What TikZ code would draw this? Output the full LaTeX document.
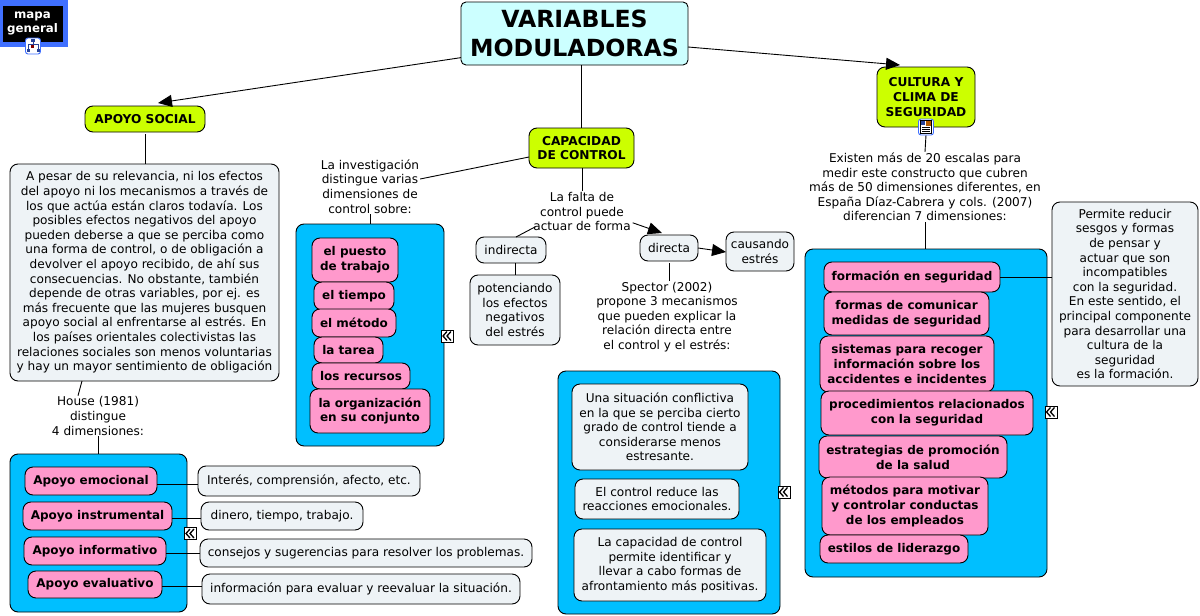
\documentclass[tikz,border=0pt]{standalone}
\usepackage{fontspec}
\setmainfont{DejaVu Sans}
\usetikzlibrary{arrows.meta,calc}
\definecolor{cgreen}{HTML}{CCFF00}
\definecolor{cpink}{HTML}{FF99CC}
\definecolor{cgrey}{HTML}{EEF3F6}
\definecolor{ccyan}{HTML}{CCFFFF}
\definecolor{cpanel}{HTML}{00BFFF}
\definecolor{cmap}{HTML}{4070FF}
\newcommand\bx[7][]{\node[#1,minimum width={(#5-#3)*1pt},minimum height={(#6-#4)*1pt}] (#2) at ({(#3+#5)/2},{(#4+#6)/2}) {#7};}
\tikzset{
  x=1pt,y=-1pt,
  base/.style={draw=black,line width=0.9pt,rounded corners=8pt,inner sep=0pt,outer sep=0pt,align=center,font=\fontsize{12.1}{14.6}\selectfont},
  mainbox/.style={base,fill=ccyan,rounded corners=5pt,font=\bfseries\fontsize{23.6}{28.5}\selectfont},
  topic/.style={base,fill=cgreen,font=\bfseries\fontsize{12.2}{14.6}\selectfont},
  pinkbox/.style={base,fill=cpink,font=\bfseries\fontsize{12}{14.6}\selectfont},
  greybox/.style={base,fill=cgrey},
  panel/.style={base,fill=cpanel},
  lab/.style={align=center,inner sep=1pt,outer sep=0pt,font=\fontsize{12.1}{14.6}\selectfont},
  link/.style={draw=black,line width=0.9pt},
  arr/.style={link,-{Triangle[length=14pt,width=12pt]}},
  collapse/.style={draw=black,fill=white,line width=0.9pt,minimum size=12pt,inner sep=0pt,
    path picture={
      \draw[line width=1.3pt] ($(path picture bounding box.center)+(-0.5,-4.5)$) -- ++(-4,4.5) -- ++(4,4.5);
      \draw[line width=1.3pt] ($(path picture bounding box.center)+(3.5,-4.5)$) -- ++(-4,4.5) -- ++(4,4.5);
    }},
  iconbox/.style={draw=cmap,fill=white,line width=0.9pt,rounded corners=2.5pt,inner sep=0pt,minimum width=15pt,minimum height=16pt},
}
\begin{document}
\begin{tikzpicture}
\useasboundingbox (0,0) rectangle (1200,616);
% blue panels
\bx[panel]{pA}{10}{454}{187}{612}{}
\bx[panel]{pB}{296}{224}{444}{446}{}
\bx[panel]{pC}{558}{371}{780}{614}{}
\bx[panel]{pD}{805}{249}{1047}{577}{}
% map button
\fill[cmap] (0,0) rectangle (68,47);
\bx[base,fill=black,rounded corners=0pt,text=white,font=\bfseries\fontsize{11.8}{14.6}\selectfont,draw=black]{mapa}{3}{6}{62}{41}{mapa\\general}
% main nodes
\bx[mainbox]{main}{461}{2}{688}{65}{VARIABLES\\MODULADORAS}
\bx[topic]{apoyo}{85}{106}{205}{132}{APOYO SOCIAL}
\bx[topic]{capac}{529}{128}{634}{168}{CAPACIDAD\\DE CONTROL}
\bx[topic]{cultura}{877}{67}{975}{127}{CULTURA Y\\CLIMA DE\\SEGURIDAD}
% left column
\bx[greybox]{texto}{10}{164}{279}{381}{A pesar de su relevancia, ni los efectos\\del apoyo ni los mecanismos a través de\\los que actúa están claros todavía. Los\\posibles efectos negativos del apoyo\\pueden deberse a que se perciba como\\una forma de control, o de obligación a\\devolver el apoyo recibido, de ahí sus\\consecuencias. No obstante, también\\depende de otras variables, por ej. es\\más frecuente que las mujeres busquen\\apoyo social al enfrentarse al estrés. En\\los países orientales colectivistas las\\relaciones sociales son menos voluntarias\\y hay un mayor sentimiento de obligación}
\node[lab] (house) at (98,416) {House (1981)\\distingue\\4 dimensiones:};
\bx[pinkbox]{emo}{25}{467}{157}{495}{Apoyo emocional}
\bx[pinkbox]{ins}{23}{502}{172}{530}{Apoyo instrumental}
\bx[pinkbox]{inf}{24}{537}{166}{565}{Apoyo informativo}
\bx[pinkbox]{eva}{28}{571}{162}{598}{Apoyo evaluativo}
\bx[greybox]{gemo}{198}{466}{420}{496}{Interés, comprensión, afecto, etc.}
\bx[greybox]{gins}{201}{502}{363}{530}{dinero, tiempo, trabajo.}
\bx[greybox]{ginf}{200}{539}{532}{567}{consejos y sugerencias para resolver los problemas.}
\bx[greybox]{geva}{202}{574}{520}{604}{información para evaluar y reevaluar la situación.}
% middle-left
\node[lab] (invest) at (370,186.5) {La investigación\\distingue varias\\dimensiones de\\control sobre:};
\bx[pinkbox]{puesto}{312}{238}{398}{282}{el puesto\\de trabajo}
\bx[pinkbox]{tiempo}{314}{282}{394}{310}{el tiempo}
\bx[pinkbox]{metodo}{312}{309}{396}{337}{el método}
\bx[pinkbox]{tarea}{314}{337}{383}{363}{la tarea}
\bx[pinkbox]{recur}{312}{363}{410}{389}{los recursos}
\bx[pinkbox]{organ}{310}{389}{430}{433}{la organización\\en su conjunto}
% middle
\node[lab] (falta) at (582,211.5) {La falta de\\control puede\\actuar de forma};
\bx[greybox]{indir}{476}{237}{546}{263}{indirecta}
\bx[greybox]{direc}{640}{235}{698}{261}{directa}
\bx[greybox]{causa}{726}{232}{794}{271}{causando\\estrés}
\bx[greybox]{poten}{470}{275}{560}{345}{potenciando\\los efectos\\negativos\\del estrés}
\node[lab] (spector) at (667,317) {Spector (2002)\\propone 3 mecanismos\\que pueden explicar la\\relación directa entre\\el control y el estrés:};
\bx[greybox]{situ}{572}{384}{748}{470}{Una situación conflictiva\\en la que se perciba cierto\\grado de control tiende a\\considerarse menos\\estresante.}
\bx[greybox]{reduce}{575}{479}{739}{519}{El control reduce las\\reacciones emocionales.}
\bx[greybox]{permi}{574}{529}{766}{601}{La capacidad de control\\permite identificar y\\llevar a cabo formas de\\afrontamiento más positivas.}
% right
\node[lab] (existen) at (925,187) {Existen más de 20 escalas para\\medir este constructo que cubren\\más de 50 dimensiones diferentes, en\\España Díaz-Cabrera y cols. (2007)\\diferencian 7 dimensiones:};
\bx[pinkbox]{form}{824}{262}{1000}{292}{formación en seguridad}
\bx[pinkbox]{comu}{824}{292}{989}{335}{formas de comunicar\\medidas de seguridad}
\bx[pinkbox]{sist}{820}{336}{994}{392}{sistemas para recoger\\información sobre los\\accidentes e incidentes}
\bx[pinkbox]{proc}{821}{391}{1033}{435}{procedimientos relacionados\\con la seguridad}
\bx[pinkbox]{estr}{819}{436}{1007}{478}{estrategias de promoción\\de la salud}
\bx[pinkbox]{moti}{822}{477}{988}{535}{métodos para motivar\\y controlar conductas\\de los empleados}
\bx[pinkbox]{lider}{820}{535}{968}{563}{estilos de liderazgo}
\bx[greybox]{reduc}{1052}{202}{1198}{386}{Permite reducir\\sesgos y formas\\de pensar y\\actuar que son\\incompatibles\\con la seguridad.\\En este sentido, el\\principal componente\\para desarrollar una\\cultura de la\\seguridad\\es la formación.}
% connectors
\draw[arr] (main.192) -- ($(apoyo.north)+(13,-3)$);
\draw[link] (main.south -| capac.north) -- (capac.north);
\draw[arr] (main.east |- 0,47) -- ($(cultura.north)+(-26,-2)$);
\draw[link] (apoyo.south) ++(0,2) -- (texto.north -| apoyo.south);
\draw[link] (texto.south -| 82,0) -- (house.north -| 78,0);
\draw[link] (house.south) -- (pA.north -| house.south);
\draw[link] (capac.west |- 0,157) -- (invest.east |- 0,179);
\draw[link] (invest.south) -- (pB.north -| invest.south);
\draw[link] (capac.south -| falta.north) -- (falta.north);
\draw[link] ($(falta.south west)+(3,-5)$) -- (indir.north -| 516,0);
\draw[arr] ($(falta.south east)+(1,-9)$) -- ($(direc.north)+(-7,-2)$);
\draw[arr] (direc.east) -- (causa.west |- 0,252);
\draw[link] (direc.south) ++(0,2) -- (spector.north -| 669,0);
\draw[link] (indir.south -| poten.north) -- (poten.north);
\draw[link] ($(cultura.south)+(0,8)$) -- (existen.north);
\draw[link] (existen.south) -- (pD.north -| existen.south);
\draw[link] (form.east) -- (reduc.west |- form.east);
\draw[link] (emo.east |- 0,484) -- (gemo.west |- 0,484);
\draw[link] (ins.east |- 0,518) -- (gins.west |- 0,518);
\draw[link] (inf.east |- 0,553) -- (ginf.west |- 0,553);
\draw[link] (eva.east |- 0,586) -- (geva.west |- 0,586);
% collapse marks
\node[collapse] (c1) at (190.5,533.5) {};
\node[collapse] (c2) at (447.5,336) {};
\node[collapse] (c3) at (784,492) {};
\node[collapse] (c4) at (1051,412) {};
% map icon
\node[iconbox] (iconmap) at (33,46) {};
\draw[draw=cmap!60!black,line width=0.7pt] (33,40) -- (33,44) (28,44) -- (38,44) (28,44) -- (28,50) (38,44) -- (38,50);
\fill[cmap!60!black] (31,38.5) rectangle (35,42);
\fill[red!50!black] (31,44.5) rectangle (34,47.5);
\fill[cmap!60!black] (26.5,49) rectangle (29.5,52);
\fill[cmap!60!black] (36.5,49) rectangle (39.5,52);
% doc icon
\node[iconbox] (icondoc) at (926,127) {};
\draw[fill=white,line width=0.6pt] (920.5,120.5) rectangle (931.5,133.5);
\fill[cmap!60!black] (921,121) rectangle (925,125);
\fill[orange!70!black] (926,121) rectangle (931,126);
\foreach \yy in {127.5,129.5,131.5} \draw[line width=0.6pt] (922,\yy) -- (930,\yy);
\end{tikzpicture}
\end{document}
